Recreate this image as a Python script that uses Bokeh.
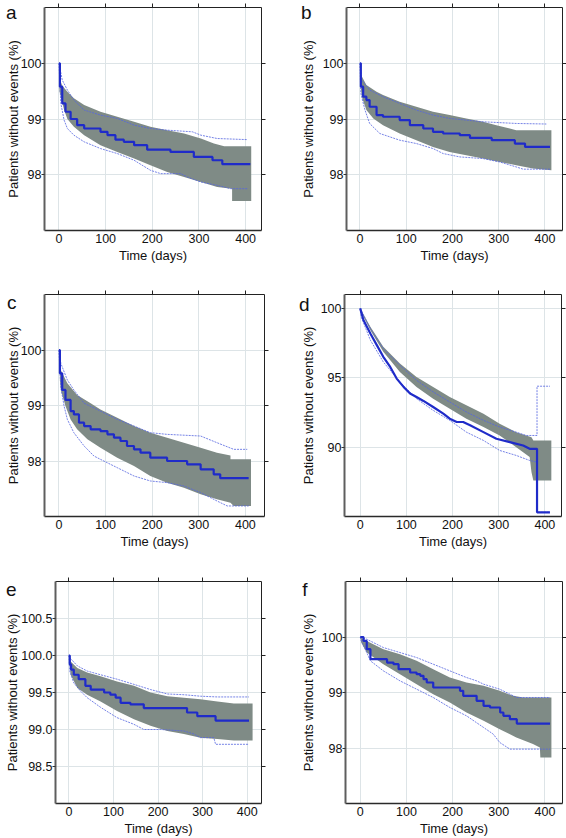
import math
from bokeh.plotting import figure
from bokeh.layouts import column, row
from bokeh.models import (Range1d, LinearAxis, FixedTicker, NumeralTickFormatter,
                          CustomLabelingPolicy)
from bokeh.embed import file_html
from bokeh.resources import INLINE

# ---------------- data ----------------
X_TICKS = [0, 100, 200, 300, 400]
Y_TICKS_STD = [98, 99, 100]
Y_TICKS_D = [90, 95, 100]
Y_TICKS_E = [98.5, 99.0, 99.5, 100.0, 100.5]
PANEL_LETTERS = ["a", "b", "c", "d", "e", "f"]
X_LABEL = "Time (days)"
Y_LABEL = "Patients without events (%)"

# panel a
A_KM_T = [0, 2, 7, 14, 25, 39, 54, 89, 104, 121, 139, 161, 189, 239, 289, 329, 350, 410]
A_KM_S = [100, 99.58, 99.28, 99.13, 99.0, 98.89, 98.83, 98.77, 98.71, 98.63, 98.59, 98.53, 98.45, 98.41, 98.32, 98.26, 98.19, 98.19]
A_BHI_T = [1, 7, 18, 32, 54, 89, 125, 161, 196, 232, 268, 304, 332, 354, 412]
A_BHI = [99.73, 99.6, 99.49, 99.37, 99.25, 99.13, 99.04, 98.95, 98.86, 98.80, 98.74, 98.65, 98.56, 98.51, 98.51]
A_BLO_T = [1, 4, 11, 18, 32, 54, 89, 125, 161, 196, 232, 268, 304, 339, 371, 371, 412]
A_BLO = [99.5, 99.4, 99.16, 99.0, 98.86, 98.71, 98.53, 98.41, 98.29, 98.17, 98.05, 97.96, 97.87, 97.78, 97.75, 97.53, 97.53]
A_UP_T = [0, 7, 18, 32, 54, 89, 125, 161, 196, 232, 286, 304, 339, 404]
A_UP = [100, 99.7, 99.52, 99.34, 99.16, 99.07, 99.01, 98.89, 98.83, 98.8, 98.77, 98.71, 98.65, 98.63]
A_LO_T = [0, 4, 11, 18, 32, 54, 89, 125, 161, 196, 218, 261, 275, 304, 339, 368, 404]
A_LO = [100, 99.28, 98.98, 98.83, 98.71, 98.59, 98.47, 98.38, 98.26, 98.08, 98.02, 98.02, 97.96, 97.87, 97.81, 97.75, 97.75]

# panel b
B_KM_T = [0, 2, 7, 14, 21, 36, 50, 86, 108, 137, 158, 180, 216, 238, 285, 335, 357, 411]
B_KM_S = [100, 99.58, 99.4, 99.34, 99.22, 99.07, 99.04, 98.98, 98.89, 98.83, 98.77, 98.74, 98.71, 98.66, 98.62, 98.56, 98.5, 98.5]
B_BHI_T = [2, 14, 36, 50, 86, 122, 158, 194, 230, 266, 295, 324, 338, 414]
B_BHI = [99.8, 99.61, 99.49, 99.43, 99.31, 99.22, 99.13, 99.07, 99.01, 98.95, 98.89, 98.83, 98.8, 98.8]
B_BLO_T = [2, 4, 14, 29, 50, 86, 122, 158, 194, 230, 266, 302, 338, 374, 414]
B_BLO = [99.55, 99.4, 99.16, 99.01, 98.89, 98.74, 98.62, 98.5, 98.41, 98.35, 98.29, 98.23, 98.17, 98.11, 98.08]
B_UP_T = [0, 4, 21, 50, 86, 122, 158, 194, 266, 338, 403]
B_UP = [100, 99.7, 99.52, 99.4, 99.28, 99.16, 99.07, 99.01, 98.95, 98.92, 98.91]
B_LO_T = [0, 2, 11, 21, 43, 86, 122, 158, 180, 216, 266, 302, 338, 353, 411]
B_LO = [100, 99.46, 99.16, 98.92, 98.74, 98.62, 98.56, 98.47, 98.38, 98.32, 98.29, 98.23, 98.14, 98.1, 98.1]

# panel c
C_KM_T = [0, 2, 7, 14, 25, 32, 43, 54, 68, 89, 104, 118, 132, 146, 161, 175, 196, 232, 275, 304, 332, 346, 407]
C_KM_S = [100, 99.58, 99.28, 99.1, 98.9, 98.84, 98.69, 98.63, 98.57, 98.54, 98.48, 98.42, 98.36, 98.27, 98.21, 98.15, 98.06, 98.0, 97.94, 97.85, 97.76, 97.69, 97.69]
C_BHI_T = [2, 4, 18, 39, 68, 89, 125, 161, 196, 232, 268, 304, 339, 368, 368, 412]
C_BHI = [99.75, 99.64, 99.4, 99.19, 99.04, 98.93, 98.78, 98.63, 98.51, 98.42, 98.33, 98.24, 98.15, 98.1, 98.03, 98.03]
C_BLO_T = [2, 4, 14, 25, 39, 61, 89, 125, 161, 196, 232, 268, 304, 339, 368, 375, 412]
C_BLO = [99.45, 99.28, 98.99, 98.75, 98.57, 98.39, 98.24, 98.06, 97.91, 97.73, 97.61, 97.52, 97.4, 97.31, 97.25, 97.19, 97.19]
C_UP_T = [0, 4, 18, 32, 54, 89, 125, 161, 196, 232, 304, 339, 375, 404]
C_UP = [100, 99.76, 99.46, 99.28, 99.04, 98.9, 98.75, 98.63, 98.51, 98.48, 98.45, 98.33, 98.21, 98.21]
C_LO_T = [0, 4, 11, 18, 32, 54, 75, 89, 125, 161, 196, 232, 268, 304, 339, 361, 407]
C_LO = [100, 99.34, 98.99, 98.75, 98.51, 98.27, 98.09, 98.03, 97.88, 97.73, 97.64, 97.61, 97.55, 97.43, 97.28, 97.19, 97.19]

# panel d
D_KM_T = [0, 7, 22, 36, 50, 65, 79, 94, 108, 122, 137, 158, 180, 194, 209, 223, 238, 267, 295, 324, 353, 367, 383, 383, 411]
D_KM_S = [100, 99.16, 98.19, 97.35, 96.51, 95.78, 94.94, 94.34, 93.86, 93.61, 93.33, 92.89, 92.41, 92.05, 91.81, 91.81, 91.57, 91.08, 90.6, 90.36, 90.12, 89.88, 89.88, 85.3, 85.3]
D_BHI_T = [0, 22, 50, 86, 122, 158, 194, 230, 267, 302, 338, 371, 375, 414]
D_BHI = [100, 98.67, 97.23, 96.02, 95.06, 94.34, 93.61, 93.01, 92.41, 91.69, 91.08, 90.72, 90.48, 90.48]
D_BLO_T = [0, 3, 22, 50, 86, 122, 158, 194, 230, 267, 302, 338, 367, 371, 375, 414]
D_BLO = [100, 99.64, 98.43, 96.87, 95.42, 94.34, 93.49, 92.77, 92.05, 91.45, 90.84, 90.0, 89.28, 88.19, 87.59, 87.59]
D_UP_T = [0, 22, 50, 86, 122, 158, 194, 230, 267, 302, 338, 360, 383, 383, 411]
D_UP = [100, 98.55, 97.11, 95.9, 94.82, 93.98, 93.25, 92.53, 91.93, 91.45, 91.08, 90.84, 90.84, 94.39, 94.39]
D_LO_T = [0, 2, 22, 50, 86, 122, 158, 194, 230, 267, 302, 338, 367, 383, 383, 411]
D_LO = [100, 99.4, 97.71, 96.14, 94.7, 93.49, 92.65, 91.93, 91.08, 90.48, 89.76, 89.4, 89.04, 88.92, 85.3, 85.3]

# panel e
E_KM_T = [0, 2, 5, 11, 22, 37, 49, 79, 93, 105, 116, 138, 168, 265, 288, 329, 404]
E_KM_S = [100, 99.88, 99.81, 99.74, 99.68, 99.59, 99.54, 99.5, 99.47, 99.43, 99.36, 99.34, 99.29, 99.23, 99.18, 99.12, 99.12]
E_BHI_T = [2, 4, 19, 41, 71, 108, 146, 183, 221, 258, 295, 333, 370, 412]
E_BHI = [99.97, 99.92, 99.83, 99.77, 99.72, 99.65, 99.59, 99.5, 99.45, 99.43, 99.41, 99.38, 99.35, 99.35]
E_BLO_T = [2, 4, 19, 41, 71, 108, 146, 183, 221, 258, 295, 333, 370, 412]
E_BLO = [99.85, 99.74, 99.56, 99.47, 99.38, 99.25, 99.14, 99.05, 98.98, 98.94, 98.89, 98.87, 98.85, 98.85]
E_UP_T = [0, 2, 19, 41, 71, 108, 146, 183, 221, 258, 295, 333, 404]
E_UP = [100, 99.97, 99.86, 99.79, 99.74, 99.68, 99.61, 99.54, 99.48, 99.47, 99.45, 99.44, 99.44]
E_LO_T = [0, 2, 11, 26, 41, 71, 108, 146, 168, 206, 258, 280, 295, 325, 329, 404]
E_LO = [100, 99.79, 99.63, 99.52, 99.43, 99.3, 99.16, 99.07, 99.0, 99.0, 98.98, 98.94, 98.89, 98.89, 98.8, 98.8]

# panel f
F_KM_T = [0, 7, 14, 22, 58, 72, 83, 108, 122, 130, 137, 144, 158, 216, 223, 252, 267, 281, 303, 310, 324, 339, 411]
F_KM_S = [100, 99.93, 99.78, 99.6, 99.54, 99.51, 99.42, 99.36, 99.33, 99.3, 99.24, 99.18, 99.09, 99.03, 98.94, 98.85, 98.76, 98.73, 98.64, 98.58, 98.52, 98.44, 98.44]
F_BHI_T = [0, 14, 50, 86, 122, 158, 194, 230, 267, 302, 331, 353, 414]
F_BHI = [100, 99.93, 99.78, 99.69, 99.57, 99.42, 99.27, 99.18, 99.12, 99.03, 98.94, 98.91, 98.91]
F_BLO_T = [0, 2, 14, 50, 86, 122, 158, 194, 230, 267, 302, 338, 374, 389, 390, 414]
F_BLO = [100, 99.9, 99.72, 99.51, 99.33, 99.15, 98.97, 98.82, 98.64, 98.49, 98.34, 98.19, 98.07, 98.01, 97.83, 97.83]
F_UP_T = [0, 14, 50, 86, 122, 158, 194, 230, 252, 267, 302, 324, 339, 411]
F_UP = [100, 99.96, 99.81, 99.72, 99.63, 99.51, 99.39, 99.27, 99.21, 99.15, 99.06, 98.97, 98.91, 98.91]
F_LO_T = [0, 2, 14, 22, 50, 86, 122, 158, 194, 230, 267, 288, 302, 324, 411]
F_LO = [100, 99.93, 99.72, 99.57, 99.39, 99.21, 99.06, 98.91, 98.73, 98.58, 98.37, 98.25, 98.1, 97.98, 97.98]

DATA = {
    "a": (A_KM_T, A_KM_S, A_BHI_T, A_BHI, A_BLO_T, A_BLO, A_UP_T, A_UP, A_LO_T, A_LO),
    "b": (B_KM_T, B_KM_S, B_BHI_T, B_BHI, B_BLO_T, B_BLO, B_UP_T, B_UP, B_LO_T, B_LO),
    "c": (C_KM_T, C_KM_S, C_BHI_T, C_BHI, C_BLO_T, C_BLO, C_UP_T, C_UP, C_LO_T, C_LO),
    "d": (D_KM_T, D_KM_S, D_BHI_T, D_BHI, D_BLO_T, D_BLO, D_UP_T, D_UP, D_LO_T, D_LO),
    "e": (E_KM_T, E_KM_S, E_BHI_T, E_BHI, E_BLO_T, E_BLO, E_UP_T, E_UP, E_LO_T, E_LO),
    "f": (F_KM_T, F_KM_S, F_BHI_T, F_BHI, F_BLO_T, F_BLO, F_UP_T, F_UP, F_LO_T, F_LO),
}
Y_TICKS = {"a": Y_TICKS_STD, "b": Y_TICKS_STD, "c": Y_TICKS_STD,
           "d": Y_TICKS_D, "e": Y_TICKS_E, "f": Y_TICKS_STD}

# ---------------- layout / style ----------------
FONT = "Liberation Sans"
BAND = "#7f8b86"
KM_COLOR = "#1f2bc9"
THIN_COLOR = "#5566e0"
GRID = "#dde4e7"

# ls: y-axis label standoff; lso: standoff of the letter label; llh: letter line height
GEOM = {
    "a": dict(w=283, h=280, bl=44, br=22, bt=7, bb=50, x=(-31, 434), y=(97.0, 101.0), ls=-3, lso=-14, llh=0.46),
    "b": dict(w=283, h=280, bl=63, br=4, bt=7, bb=50, x=(-29, 438), y=(97.0, 101.0), ls=4, lso=-14, llh=0.46),
    "c": dict(w=283, h=280, bl=44, br=19, bt=14, bb=44, x=(-31, 441), y=(97.0, 101.0), ls=-3, lso=-14, llh=0.78),
    "d": dict(w=283, h=280, bl=61, br=5, bt=14, bb=44, x=(-34, 436), y=(85.0, 101.0), ls=2, lso=-12, llh=0.95),
    "e": dict(w=283, h=278, bl=55, br=22, bt=21, bb=35, x=(-30, 432), y=(98.0, 101.0), ls=-2, lso=-14, llh=0.78),
    "f": dict(w=283, h=278, bl=62, br=4, bt=21, bb=35, x=(-32, 438), y=(97.0, 101.0), ls=3, lso=-10, llh=0.78),
}

HIDE_ALL = "for (const i of indices) { indices.unset(i) }\nreturn indices"
AXIS_PROPS = LinearAxis.properties()


def build(key):
    g = GEOM[key]
    km_t, km_s, bhi_t, bhi, blo_t, blo, up_t, up, lo_t, lo = DATA[key]
    yt = Y_TICKS[key]
    p = figure(width=g["w"], height=g["h"], x_range=Range1d(*g["x"]), y_range=Range1d(*g["y"]),
               output_backend="svg", toolbar_location=None, tools="",
               min_border_left=g["bl"], min_border_right=g["br"],
               min_border_top=g["bt"], min_border_bottom=g["bb"],
               background_fill_color="white", border_fill_color="white",
               outline_line_color=None)

    p.xgrid.ticker = FixedTicker(ticks=X_TICKS)
    p.ygrid.ticker = FixedTicker(ticks=yt)
    p.grid.grid_line_color = GRID
    p.grid.grid_line_width = 1

    xa = p.xaxis[0]
    xa.ticker = FixedTicker(ticks=X_TICKS)
    xa.major_tick_out = 0
    xa.major_tick_in = 0
    xa.minor_tick_out = 0
    xa.minor_tick_in = 0
    xa.axis_line_color = "#2a2a2a"
    xa.axis_line_width = 1.5
    xa.major_label_text_font = FONT
    xa.major_label_text_font_size = "12.5px"
    xa.major_label_text_color = "#111111"
    xa.major_label_standoff = 3
    xa.axis_label = X_LABEL
    xa.axis_label_text_font = FONT
    xa.axis_label_text_font_size = "13px"
    xa.axis_label_text_font_style = "normal"
    xa.axis_label_text_color = "#111111"
    xa.axis_label_standoff = 2

    ya = p.yaxis[0]
    ya.ticker = FixedTicker(ticks=yt)
    ya.major_tick_out = 3
    ya.major_tick_in = 0
    ya.minor_tick_out = 0
    ya.minor_tick_in = 0
    ya.axis_line_color = "#5e5e5e"
    ya.axis_line_width = 2
    ya.major_tick_line_color = "#333333"
    ya.major_label_text_font = FONT
    ya.major_label_text_font_size = "12.5px"
    ya.major_label_text_color = "#111111"
    ya.major_label_standoff = 0
    ya.axis_label = Y_LABEL
    ya.axis_label_text_font = FONT
    ya.axis_label_text_font_size = "13px"
    ya.axis_label_text_font_style = "normal"
    ya.axis_label_text_color = "#111111"
    ya.axis_label_standoff = g["ls"]
    if key == "e":
        ya.formatter = NumeralTickFormatter(format="0.0")

    top = LinearAxis(ticker=FixedTicker(ticks=X_TICKS), major_tick_out=4, major_tick_in=0,
                     minor_tick_out=0, minor_tick_in=0, major_label_text_font_size="0px",
                     major_label_standoff=0, axis_line_color="#222222", axis_line_width=1,
                     major_tick_line_color="#222222",
                     major_label_policy=CustomLabelingPolicy(code=HIDE_ALL))
    p.add_layout(top, "above")
    right = LinearAxis(ticker=FixedTicker(ticks=yt), major_tick_out=4, major_tick_in=0,
                       minor_tick_out=0, minor_tick_in=0, major_label_text_font_size="0px",
                       major_label_standoff=0, axis_line_color="#222222", axis_line_width=1,
                       major_tick_line_color="#222222",
                       major_label_policy=CustomLabelingPolicy(code=HIDE_ALL))
    p.add_layout(right, "right")

    # panel letter: label of an extra, otherwise empty, left axis
    let = LinearAxis(ticker=FixedTicker(ticks=[]), major_tick_out=0, major_tick_in=0,
                     minor_tick_out=0, minor_tick_in=0, axis_line_color=None,
                     major_label_text_font_size="0px", major_label_standoff=0,
                     axis_label="\n" + key, axis_label_standoff=g["lso"],
                     axis_label_text_font=FONT, axis_label_text_font_size="19px",
                     axis_label_text_line_height=g["llh"],
                     axis_label_text_font_style="normal", axis_label_text_color="#111111")
    if "axis_label_orientation" in AXIS_PROPS:
        let.axis_label_orientation = "horizontal"
    if "axis_label_align" in AXIS_PROPS:
        let.axis_label_align = "end"
    p.add_layout(let, "left")

    p.patch(list(bhi_t) + list(reversed(blo_t)), list(bhi) + list(reversed(blo)),
            fill_color=BAND, fill_alpha=1.0, line_color=None)
    p.line(up_t, up, line_color=THIN_COLOR, line_width=0.9, line_dash="2 1", line_alpha=0.9)
    p.line(lo_t, lo, line_color=THIN_COLOR, line_width=0.9, line_dash="2 1", line_alpha=0.9)
    if key == "d":
        p.line(km_t, km_s, line_color=KM_COLOR, line_width=2.2)
    else:
        p.step(km_t, km_s, mode="after", line_color=KM_COLOR, line_width=2.2)
    return p


figs = {k: build(k) for k in PANEL_LETTERS}
layout = column(row(figs["a"], figs["b"]), row(figs["c"], figs["d"]), row(figs["e"], figs["f"]))

open("out.html", "w").write(file_html(layout, INLINE))
